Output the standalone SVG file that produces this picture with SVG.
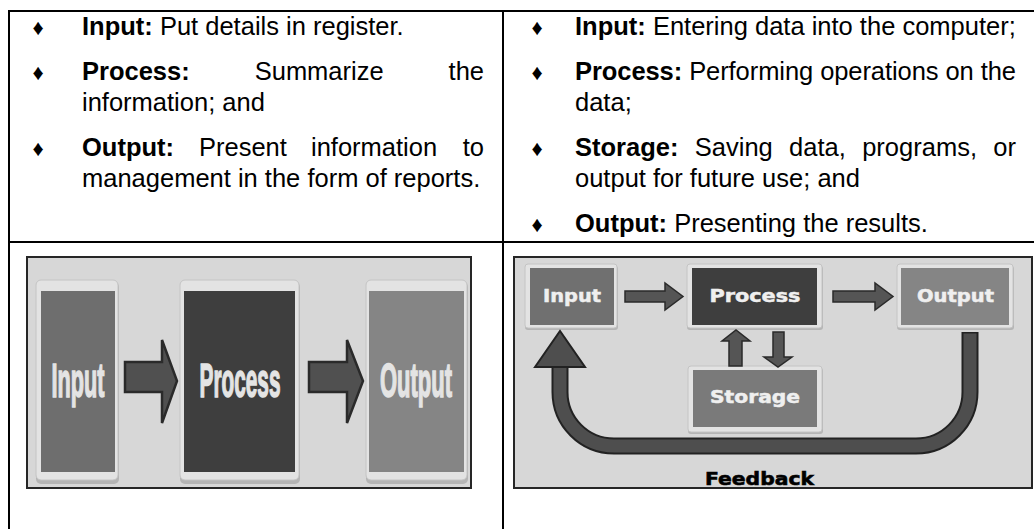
<svg xmlns="http://www.w3.org/2000/svg" width="1034" height="529" viewBox="0 0 1034 529">
<style>
.t{font-family:"Liberation Sans",Arial,sans-serif;font-size:25.5px;fill:#000}
.b{font-weight:bold}
.bul{font-family:"Liberation Sans","DejaVu Sans",sans-serif;font-size:22px;fill:#000;text-anchor:middle}
.grid{stroke:#000;stroke-width:2;fill:none}
.frame{fill:#d7d7d7;stroke:#262626;stroke-width:2}
.card{fill:#e3e3e3;stroke:#c4c4c4;stroke-width:1}
.shadow{fill:#b5b5b5}
.lbl1{font-family:"Liberation Sans",sans-serif;font-weight:bold;font-size:49px;fill:#e4e4e4;stroke:#e4e4e4;stroke-width:1.6;text-anchor:middle}
.lbl2{font-family:"DejaVu Sans",sans-serif;font-weight:bold;font-size:17px;fill:#efefef;stroke:#efefef;stroke-width:0.5;text-anchor:middle}
.arr{fill:#505050;stroke:#2a2a2a;stroke-width:2.5;stroke-linejoin:miter}
.arr2{fill:#555;stroke:#2a2a2a;stroke-width:1.5}
</style>

<g id="table">
<line class="grid" x1="8" y1="11" x2="1034" y2="11"/>
<line class="grid" x1="9" y1="10" x2="9" y2="529"/>
<line class="grid" x1="503" y1="10" x2="503" y2="529"/>
<line class="grid" x1="8" y1="242" x2="1034" y2="242"/>
</g>

<g id="text-left">
<text class="bul" x="38" y="35">♦</text>
<text class="t" x="82" y="35"><tspan class="b">Input:</tspan> Put details in register.</text>
<text class="bul" x="38" y="80">♦</text>
<text class="t b" x="82" y="80">Process:</text>
<text class="t" x="254.7" y="80">Summarize</text>
<text class="t" x="484" y="80" text-anchor="end">the</text>
<text class="t" x="82" y="111">information; and</text>
<text class="bul" x="38" y="156">♦</text>
<text class="t b" x="82" y="156">Output:</text>
<text class="t" x="199" y="156">Present</text>
<text class="t" x="311" y="156">information</text>
<text class="t" x="484" y="156" text-anchor="end">to</text>
<text class="t" x="82" y="187">management in the form of reports.</text>
</g>

<g id="text-right">
<text class="bul" x="537" y="35">♦</text>
<text class="t" x="575" y="35"><tspan class="b">Input:</tspan> Entering data into the computer;</text>
<text class="bul" x="537" y="80">♦</text>
<text class="t" x="575" y="80" textLength="441" lengthAdjust="spacing"><tspan class="b">Process:</tspan> Performing operations on the</text>
<text class="t" x="575" y="111">data;</text>
<text class="bul" x="537" y="156">♦</text>
<text class="t b" x="575" y="156">Storage:</text>
<text class="t" x="694.8" y="156">Saving</text>
<text class="t" x="789.1" y="156">data,</text>
<text class="t" x="862.2" y="156">programs,</text>
<text class="t" x="1016" y="156" text-anchor="end">or</text>
<text class="t" x="575" y="187">output for future use; and</text>
<text class="bul" x="537" y="232">♦</text>
<text class="t" x="575" y="232"><tspan class="b">Output:</tspan> Presenting the results.</text>
</g>

<g id="diagram-left">
<rect class="frame" x="27" y="257" width="444" height="231"/>
<g id="l-input">
<rect class="shadow" x="36" y="282" width="83" height="202" rx="5"/>
<rect class="card" x="36" y="280" width="82" height="200" rx="5"/>
<rect x="41" y="291" width="74" height="181" fill="#6e6e6e"/>
<text class="lbl1" x="78" y="397" textLength="53" lengthAdjust="spacingAndGlyphs">Input</text>
</g>
<g id="l-process">
<rect class="shadow" x="180" y="282" width="120" height="202" rx="5"/>
<rect class="card" x="180" y="280" width="119" height="200" rx="5"/>
<rect x="184" y="291" width="111" height="181" fill="#3e3e3e"/>
<text class="lbl1" x="240" y="397" textLength="81" lengthAdjust="spacingAndGlyphs">Process</text>
</g>
<g id="l-output">
<rect class="shadow" x="366" y="282" width="102" height="202" rx="5"/>
<rect class="card" x="366" y="280" width="101" height="200" rx="5"/>
<rect x="369" y="291" width="95" height="181" fill="#858585"/>
<text class="lbl1" x="416" y="397" textLength="72" lengthAdjust="spacingAndGlyphs">Output</text>
</g>
</g>

<g id="diagram-right">
<rect class="frame" x="514" y="257" width="518" height="231"/>
<g id="r-input">
<rect class="shadow" x="525" y="266" width="93" height="64" rx="3"/>
<rect class="card" x="525" y="264" width="92" height="64" rx="3"/>
<rect x="530" y="268" width="84" height="57" fill="#707070"/>
<text class="lbl2" x="572" y="302" textLength="58" lengthAdjust="spacingAndGlyphs">Input</text>
</g>
<g id="r-process">
<rect class="shadow" x="687" y="266" width="136" height="64" rx="3"/>
<rect class="card" x="687" y="264" width="135" height="64" rx="3"/>
<rect x="692" y="268" width="125" height="57" fill="#3e3e3e"/>
<text class="lbl2" x="755" y="302" textLength="91" lengthAdjust="spacingAndGlyphs">Process</text>
</g>
<g id="r-output">
<rect class="shadow" x="897" y="266" width="117" height="64" rx="3"/>
<rect class="card" x="897" y="264" width="116" height="64" rx="3"/>
<rect x="901" y="268" width="108" height="57" fill="#858585"/>
<text class="lbl2" x="955.5" y="302" textLength="77" lengthAdjust="spacingAndGlyphs">Output</text>
</g>
<g id="r-storage">
<rect class="shadow" x="688" y="368" width="135" height="66" rx="3"/>
<rect class="card" x="688" y="366" width="134" height="66" rx="3"/>
<rect x="693" y="370" width="124" height="57" fill="#7a7a7a"/>
<text class="lbl2" x="755" y="403" textLength="90" lengthAdjust="spacingAndGlyphs">Storage</text>
</g>
<text x="759.5" y="485" font-family="DejaVu Sans,sans-serif" font-weight="bold" font-size="18" fill="#000" stroke="#000" stroke-width="0.6" text-anchor="middle" textLength="109" lengthAdjust="spacingAndGlyphs">Feedback</text>
</g>

<g id="connectors">
<polygon class="arr" points="125,362 162,362 162,340 177,381 162,423 162,392 125,392"/>
<polygon class="arr" points="309,362 347,362 347,340 363,381 347,423 347,392 309,392"/>
<polygon class="arr2" points="625,291 665,291 665,283 683,296.5 665,310 665,302 625,302"/>
<polygon class="arr2" points="833,291 875,291 875,283 893,296.5 875,310 875,302 833,302"/>
<polygon class="arr2" points="729,366 729,341 722,341 736,330 750,341 742,341 742,366"/>
<polygon class="arr2" points="773,332 784,332 784,357 792,357 778,367 764,357 773,357"/>
<path d="M970,332 V392 A54,54 0 0 1 916,446 H614 A54,54 0 0 1 560,392 V366" fill="none" stroke="#222" stroke-width="17"/>
<path d="M970,333.5 V392 A54,54 0 0 1 916,446 H614 A54,54 0 0 1 560,392 V366" fill="none" stroke="#4e4e4e" stroke-width="13"/>
<polygon points="535,367 560,331 585,367" fill="#4e4e4e" stroke="#222" stroke-width="2"/>
</g>
</svg>
